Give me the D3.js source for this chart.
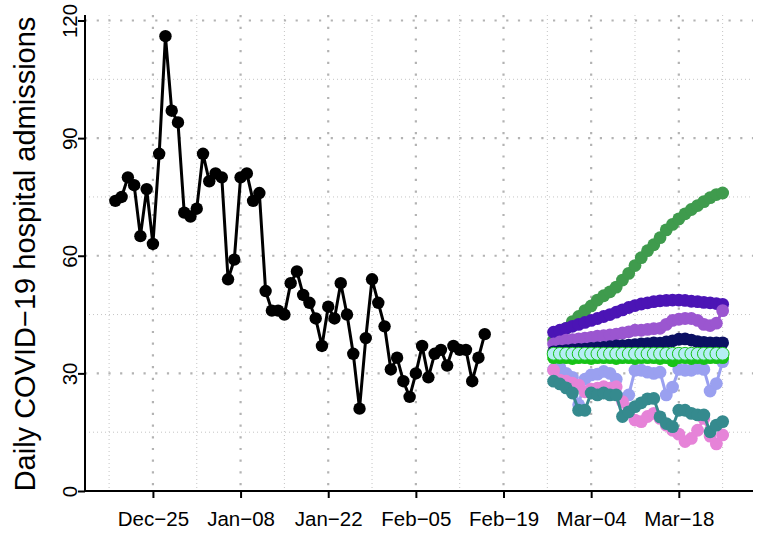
<!DOCTYPE html>
<html>
<head>
<meta charset="utf-8">
<script src="https://cdn.jsdelivr.net/npm/d3@7"></script>
<style>
  html, body { margin: 0; padding: 0; background: #fff; }
  svg { display: block; font-family: "Liberation Sans", Arial, Helvetica, sans-serif; }
</style>
</head>
<body>
<svg id="chart" width="765" height="533"></svg>
<script>
// ---------------- data ----------------
const obsStart = "2023-12-19";
const observed = [74,75,80,78,65,77,63,86,116,97,94,71,70,72,86,79,81,80,54,59,
  80,81,74,76,51,46,46,45,53,56,50,48,44,37,47,44,53,45,35,21,
  39,54,48,42,31,34,28,24,30,37,29,35,36,32,37,36,36,28,34,40];

const fcStart = "2024-02-27";
const fcGreen    = [38.5,40,41.5,43.2,44.5,46,47.2,48.7,49.8,50.8,52,53.8,55.5,57.5,59.5,61.3,62.8,64.6,66.6,68,69.4,70.7,71.8,72.8,73.8,74.8,75.6,76];
const fcPurple   = [40.5,41,41.5,42,42.5,43,43.5,44,44.5,45,45.6,46.2,46.8,47.3,47.7,48,48.3,48.5,48.6,48.7,48.7,48.6,48.4,48.3,48.1,48,47.8,47.6];
const fcOrchid   = [37.5,38,38.5,38.6,38.8,39,39.2,39.5,39.6,39.8,40,40.3,40.6,41,41,41.2,41.4,41.5,42.5,43.5,43.8,44,44,43.5,42.5,42.2,42.8,46];
const fcNavy     = [35.5,35.7,35.8,36,36.1,36.2,36.4,36.5,36.6,36.8,37,37.1,37.2,37.3,37.5,37.6,37.8,37.7,38,38.3,38.7,38.8,38.5,38.1,37.9,37.8,37.8,37.8];
const fcLavender = [31,31.5,30,29,22,28.5,29.6,29.8,30.5,30,28.5,23.5,24.5,30.8,30.8,30.3,30,30.3,24.5,26.5,31,30.8,30.8,31.3,31,25.5,27.4,33];
const fcPink     = [30.8,28.3,28,27.5,27,25.3,26,26.2,26.6,26.2,26.6,22.8,21,18.1,17.7,19,19.8,18.5,16.8,15.5,14.5,12.6,13.4,15.5,18.5,14,12,14.3];
const fcTeal     = [28,27.3,26.3,25,20.6,20.6,25,24.5,25,24.5,24.5,19,20.2,21.5,22.5,23.5,23.6,18.9,17.2,16.4,20.6,20.6,19.8,19.4,19.4,15.1,16.8,17.7];
const fcLime     = [34,34,34,33.8,34,34,33.8,34,34,34,33.8,34,34,33.8,34,34,34,33.8,34,33.2,34,34,33.8,34,33.8,34,34,34];
const fcCyan     = [35,35,35,35,35,35,35,35,35,35,35,35,35,35,35,35,35,35,35,35,35,35,35,35,35,35,35,35];

const yTicks = [0, 30, 60, 90, 120];
const yMinor = [15, 45, 75, 105];
const xTickDates = ["2023-12-25","2024-01-08","2024-01-22","2024-02-05","2024-02-19","2024-03-04","2024-03-18"];
const xTickLabels = ["Dec\u221225","Jan\u221208","Jan\u221222","Feb\u221205","Feb\u221219","Mar\u221204","Mar\u221218"];
const xMinorDates = ["2023-12-18","2024-01-01","2024-01-15","2024-01-29","2024-02-12","2024-02-26","2024-03-11","2024-03-25"];
const yTitle = "Daily COVID\u221219 hospital admissions";

const forecastSeries = [
  {name: "green",    color: "#3f9b4d", values: fcGreen},
  {name: "purple",   color: "#4b14b5", values: fcPurple},
  {name: "orchid",   color: "#9b56d0", values: fcOrchid},
  {name: "navy",     color: "#0b1062", values: fcNavy},
  {name: "lavender", color: "#9aa0f0", values: fcLavender},
  {name: "pink",     color: "#e683d8", values: fcPink},
  {name: "teal",     color: "#358a8e", values: fcTeal},
  {name: "lime",     color: "#16c316", values: fcLime},
  {name: "cyan",     color: "#b5eef5", values: fcCyan, stroke: "#16c316"}
];

// ---------------- build ----------------
(function () {
const parse = d3.utcParse("%Y-%m-%d");
const obs = observed.map((v, i) => ({date: d3.utcDay.offset(parse(obsStart), i), value: v}));
const fcBase = parse(fcStart);
forecastSeries.forEach(s => {
  s.points = s.values.map((v, i) => ({date: d3.utcDay.offset(fcBase, i), value: v}));
});

const svg = d3.select("#chart");
const pLeft = 85, pRight = 753, pTop = 15, pBottom = 491;

const allDates = obs.map(d => d.date).concat(forecastSeries[0].points.map(d => d.date));
const [dMin, dMax] = d3.extent(allDates);
const pad = (dMax - dMin) * 0.05;
const x = d3.scaleUtc().domain([new Date(+dMin - pad), new Date(+dMax + pad)]).range([pLeft, pRight]);
const y = d3.scaleLinear().domain([0, 120]).range([pBottom, 20.5]);

// grid
const grid = svg.append("g");
grid.selectAll("line.xminor").data(xMinorDates.map(parse)).join("line").attr("class", "xminor")
  .attr("x1", d => x(d)).attr("x2", d => x(d)).attr("y1", pTop).attr("y2", pBottom)
  .attr("stroke", "#c4c4c4").attr("stroke-width", 1).attr("stroke-dasharray", "1,3");
grid.selectAll("line.yminor").data(yMinor).join("line").attr("class", "yminor")
  .attr("x1", pLeft).attr("x2", pRight).attr("y1", d => y(d)).attr("y2", d => y(d))
  .attr("stroke", "#c4c4c4").attr("stroke-width", 1).attr("stroke-dasharray", "1,3");
grid.selectAll("line.xmajor").data(xTickDates.map(parse)).join("line").attr("class", "xmajor")
  .attr("x1", d => x(d)).attr("x2", d => x(d)).attr("y1", pTop).attr("y2", pBottom)
  .attr("stroke", "#b3b3b3").attr("stroke-width", 2.2).attr("stroke-dasharray", "2.2,9.5");
grid.selectAll("line.ymajor").data(yTicks.slice(1)).join("line").attr("class", "ymajor")
  .attr("x1", pLeft).attr("x2", pRight).attr("y1", d => y(d)).attr("y2", d => y(d))
  .attr("stroke", "#b3b3b3").attr("stroke-width", 2.2).attr("stroke-dasharray", "2.2,9.5");

// observed
const line = d3.line().x(d => x(d.date)).y(d => y(d.value));
svg.append("path").datum(obs).attr("d", line)
  .attr("fill", "none").attr("stroke", "#000").attr("stroke-width", 3).attr("stroke-linejoin", "round");
svg.append("g").selectAll("circle").data(obs).join("circle")
  .attr("cx", d => x(d.date)).attr("cy", d => y(d.value)).attr("r", 6.2).attr("fill", "#000");

// forecasts
forecastSeries.forEach(s => {
  const g = svg.append("g");
  g.append("path").datum(s.points).attr("d", line)
    .attr("fill", "none").attr("stroke", s.color).attr("stroke-width", 3);
  g.selectAll("circle").data(s.points).join("circle")
    .attr("cx", d => x(d.date)).attr("cy", d => y(d.value)).attr("r", 6.4)
    .attr("fill", s.color)
    .attr("stroke", s.stroke || "none").attr("stroke-width", s.stroke ? 1 : 0);
});

// axes
const xAxis = d3.axisBottom(x).tickValues(xTickDates.map(parse))
  .tickFormat((d, i) => xTickLabels[i]).tickSize(7).tickSizeOuter(0);
const gx = svg.append("g").attr("transform", `translate(0,${pBottom})`).call(xAxis);
gx.select(".domain").attr("d", `M${pLeft},0H${pRight}`).attr("stroke", "#000").attr("stroke-width", 2);
gx.selectAll(".tick line").attr("stroke", "#000").attr("stroke-width", 2);
gx.selectAll(".tick text").attr("font-size", "20.5px").attr("fill", "#000").attr("y", 0).attr("dy", "35px")
  .attr("font-family", "'Liberation Sans', Arial, sans-serif");

const yAxis = d3.axisLeft(y).tickValues(yTicks).tickSize(7).tickSizeOuter(0).tickFormat(d3.format("d"));
const gy = svg.append("g").attr("transform", `translate(${pLeft},0)`).call(yAxis);
gy.select(".domain").attr("d", `M0,${pTop}V${pBottom}`).attr("stroke", "#000").attr("stroke-width", 2);
gy.selectAll(".tick line").attr("stroke", "#000").attr("stroke-width", 2);
gy.selectAll(".tick text").attr("font-size", "20.5px").attr("fill", "#000")
  .attr("font-family", "'Liberation Sans', Arial, sans-serif")
  .attr("x", 0).attr("dy", 0)
  .attr("text-anchor", "middle")
  .attr("transform", "translate(-8,0) rotate(-90)");

// y title
svg.append("text")
  .attr("transform", `translate(35,${(18 + 490) / 2}) rotate(-90)`)
  .attr("text-anchor", "middle")
  .attr("font-size", "29px").attr("fill", "#000")
  .attr("font-family", "'Liberation Sans', Arial, sans-serif")
  .text(yTitle);
})();
</script>
</body>
</html>
